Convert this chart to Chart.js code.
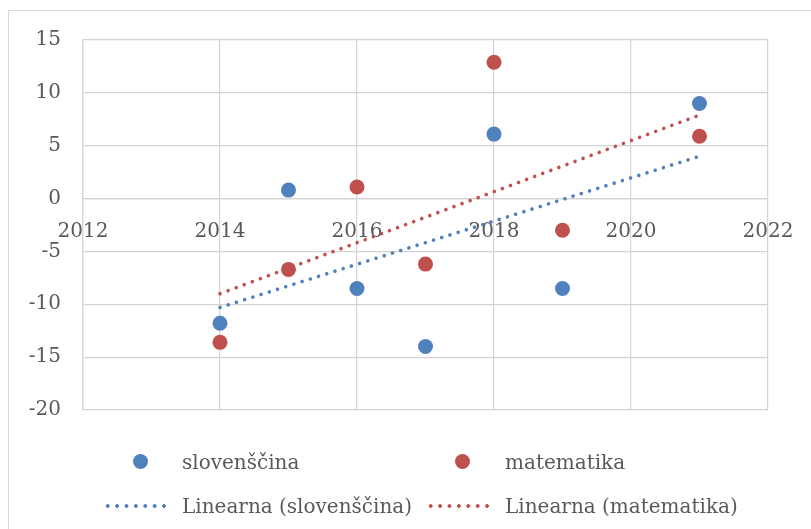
<!DOCTYPE html>
<html><head><meta charset="utf-8">
<script src="https://cdn.jsdelivr.net/npm/chart.js@4/dist/chart.umd.min.js"></script>
<style>
html,body{margin:0;padding:0;background:#fff;overflow:hidden;width:811px;height:529px;position:relative;}
#frame{position:absolute;left:8px;top:10px;width:840px;height:560px;border:1.5px solid #d9d9d9;box-sizing:border-box;}
#wrap{position:absolute;left:0;top:0;width:811px;height:529px;}
.leg{position:absolute;font-family:'DejaVu Serif';font-size:20px;color:#595959;white-space:nowrap;line-height:24px;}
.dot{position:absolute;width:15px;height:15px;border-radius:50%;}
.dl{position:absolute;height:4px;background-repeat:repeat-x;}
</style></head>
<body>
<div id="frame"></div>
<div id="wrap"><canvas id="c" width="811" height="529"></canvas></div>
<div id="legend"></div>
<script>
// ---- data ----
const years = [2014, 2015, 2016, 2017, 2018, 2019, 2021];
const slovenscina = [-11.8, 0.8, -8.5, -14.0, 6.1, -8.5, 9.0];
const matematika = [-13.6, -6.7, 1.1, -6.2, 12.9, -3.0, 5.9];
const trendYears = [2014, 2021];
const trendSlovenscina = [-10.3, 4.0];
const trendMatematika = [-9.0, 7.9];
const xTicks = [2012, 2014, 2016, 2018, 2020, 2022];
const yTicks = [-20, -15, -10, -5, 0, 5, 10, 15];
const seriesNames = ['slovenščina', 'matematika', 'Linearna (slovenščina)', 'Linearna (matematika)'];

const BLUE = '#4f81bd', RED = '#c0504d', GRID = '#d4d4d4', TEXT = '#595959';
const FONT = 'DejaVu Serif';

const pts = (xs, ys) => xs.map((x, i) => ({x: x, y: ys[i]}));

Chart.defaults.font.family = FONT;
Chart.defaults.color = TEXT;

new Chart(document.getElementById('c'), {
  type: 'scatter',
  data: {
    datasets: [
      {label: seriesNames[2], data: pts(trendYears, trendSlovenscina), showLine: true, borderColor: BLUE,
       borderWidth: 3.6, borderDash: [0.01, 8.6], borderCapStyle: 'round', pointRadius: 0, pointHoverRadius: 0, order: 3},
      {label: seriesNames[3], data: pts(trendYears, trendMatematika), showLine: true, borderColor: RED,
       borderWidth: 3.6, borderDash: [0.01, 8.6], borderCapStyle: 'round', pointRadius: 0, pointHoverRadius: 0, order: 4},
      {label: seriesNames[0], data: pts(years, slovenscina), backgroundColor: BLUE, borderColor: BLUE,
       pointRadius: 7.5, borderWidth: 0, order: 1},
      {label: seriesNames[1], data: pts(years, matematika), backgroundColor: RED, borderColor: RED,
       pointRadius: 7.5, borderWidth: 0, order: 2}
    ]
  },
  options: {
    responsive: false,
    animation: false,
    devicePixelRatio: window.devicePixelRatio || 1,
    layout: {padding: {left: 0, top: 40, right: 43, bottom: 119}},
    plugins: {legend: {display: false}, tooltip: {enabled: false}},
    scales: {
      x: {
        type: 'linear', position: {y: 0}, min: xTicks[0], max: xTicks[xTicks.length - 1],
        afterBuildTicks: s => { s.ticks = xTicks.map(v => ({value: v})); },
        afterFit: s => { s.paddingLeft = 0; s.paddingRight = 0; },
        ticks: {callback: v => String(v), font: {size: 20, family: FONT}, color: TEXT, padding: 21, maxRotation: 0, autoSkip: false},
        grid: {color: GRID, lineWidth: 1.2, drawTicks: false},
        border: {color: GRID, width: 1.2}
      },
      y: {
        type: 'linear', position: 'left', min: yTicks[0], max: yTicks[yTicks.length - 1],
        afterBuildTicks: s => { s.ticks = yTicks.map(v => ({value: v})); },
        afterFit: s => { s.width = 83; },
        ticks: {callback: v => String(v), font: {size: 20, family: FONT}, color: TEXT, padding: 22},
        grid: {color: GRID, lineWidth: 1.2, drawTicks: false},
        border: {color: GRID, width: 1.2}
      }
    }
  }
});

// ---- HTML legend ----
const legend = document.getElementById('legend');
function add(html) { legend.insertAdjacentHTML('beforeend', html); }
const dotted = c => `background-image:radial-gradient(circle, ${c} 1.7px, transparent 2.1px);background-size:9.4px 4px;`;
// row 1
add(`<div class="dot" style="left:133px;top:454px;background:${BLUE}"></div>`);
add(`<div class="leg" style="left:182px;top:450px">${seriesNames[0]}</div>`);
add(`<div class="dot" style="left:455px;top:454px;background:${RED}"></div>`);
add(`<div class="leg" style="left:505px;top:450px">${seriesNames[1]}</div>`);
// row 2
add(`<div class="dl" style="left:103px;top:504px;width:66px;${dotted(BLUE)}"></div>`);
add(`<div class="leg" style="left:182px;top:494px">${seriesNames[2]}</div>`);
add(`<div class="dl" style="left:426px;top:504px;width:66px;${dotted(RED)}"></div>`);
add(`<div class="leg" style="left:505px;top:494px">${seriesNames[3]}</div>`);
</script>
</body></html>
